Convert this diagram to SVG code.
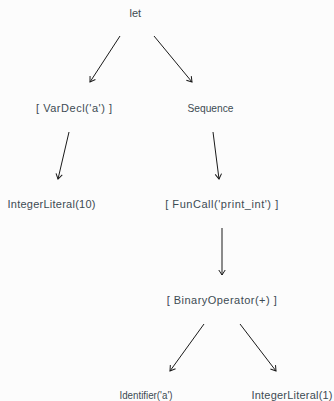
<svg xmlns="http://www.w3.org/2000/svg" width="334" height="401" viewBox="0 0 334 401">
  <style>
    .lbl { font-family: "Liberation Sans", Arial, sans-serif; font-size: 11px; fill: #3d4b53; text-anchor: middle; }
    .edge { stroke: #1a1a1a; stroke-width: 1; fill: none; marker-end: url(#arrow); }
  </style>
  <defs>
    <marker id="arrow" viewBox="0 0 8 8" refX="7" refY="4" markerWidth="8" markerHeight="8" markerUnits="userSpaceOnUse" orient="auto">
      <path d="M2,0.8 L7,4 L2,7.2" fill="none" stroke="#1a1a1a" stroke-width="1"/>
    </marker>
  </defs>
  <rect width="334" height="401" fill="#fcfcfc"/>
  <g id="connectors">
    <line class="edge" x1="120" y1="36" x2="90" y2="82"/>
    <line class="edge" x1="154" y1="36" x2="192" y2="82"/>
    <line class="edge" x1="69" y1="132" x2="58" y2="179"/>
    <line class="edge" x1="213" y1="132" x2="219" y2="179"/>
    <line class="edge" x1="222" y1="228" x2="222" y2="275"/>
    <line class="edge" x1="204" y1="324" x2="170" y2="371"/>
    <line class="edge" x1="240" y1="324" x2="276" y2="371"/>
  </g>
  <g id="node-let"><text class="lbl" x="135.3" y="16.5">let</text></g>
  <g id="node-vardecl"><text class="lbl" x="74" y="111.5" textLength="76" lengthAdjust="spacing">[ VarDecl('a') ]</text></g>
  <g id="node-sequence"><text class="lbl" x="210.5" y="111.5" textLength="46" lengthAdjust="spacingAndGlyphs">Sequence</text></g>
  <g id="node-intlit10"><text class="lbl" x="51.5" y="208" textLength="88" lengthAdjust="spacing">IntegerLiteral(10)</text></g>
  <g id="node-funcall"><text class="lbl" x="221.7" y="208" textLength="113" lengthAdjust="spacing">[ FunCall('print_int') ]</text></g>
  <g id="node-binop"><text class="lbl" x="221.7" y="303.5" textLength="110" lengthAdjust="spacing">[ BinaryOperator(+) ]</text></g>
  <g id="node-identifier"><text class="lbl" x="146" y="398.5" textLength="53" lengthAdjust="spacingAndGlyphs">Identifier('a')</text></g>
  <g id="node-intlit1"><text class="lbl" x="292" y="398.5" textLength="81" lengthAdjust="spacing">IntegerLiteral(1)</text></g>
</svg>
